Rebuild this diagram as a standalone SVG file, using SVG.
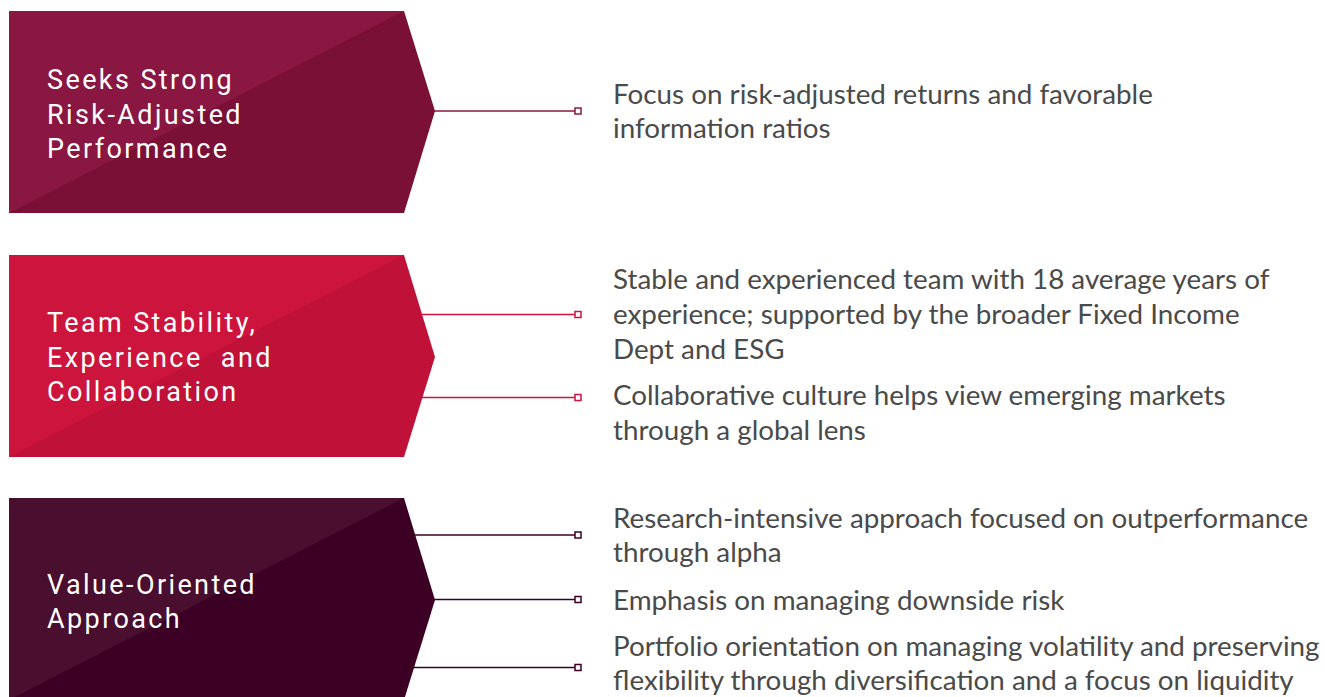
<svg xmlns="http://www.w3.org/2000/svg" width="1325" height="697" viewBox="0 0 1325 697">
<style>
.lbl{font-family:Roboto,"Liberation Sans",sans-serif;font-size:27px;fill:#ffffff;letter-spacing:2.4px}
.txt{font-family:Lato,"Liberation Sans",sans-serif;font-size:27.8px;fill:#4a4a4a}
.sq{fill:#ffffff;stroke-width:1.5}
</style>
<rect width="1325" height="697" fill="#ffffff"/>
<g id="connectors">
<g stroke="#8a1741" stroke-width="1.5">
<line x1="420" y1="111" x2="575" y2="111"/>
<rect class="sq" x="575" y="108" width="6" height="6" stroke="#8a1741"/>
</g>
<g stroke="#cc143c" stroke-width="1.5">
<line x1="410" y1="314.5" x2="575" y2="314.5"/>
<rect class="sq" x="575" y="311.5" width="6" height="6" stroke="#cc143c"/>
<line x1="410" y1="397.5" x2="575" y2="397.5"/>
<rect class="sq" x="575" y="394.5" width="6" height="6" stroke="#cc143c"/>
</g>
<g stroke="#3b0023" stroke-width="1.5">
<line x1="405" y1="535" x2="575" y2="535"/>
<rect class="sq" x="575" y="532" width="6" height="6" stroke="#3b0023"/>
<line x1="420" y1="599.5" x2="575" y2="599.5"/>
<rect class="sq" x="575" y="596.5" width="6" height="6" stroke="#3b0023"/>
<line x1="405" y1="667.5" x2="575" y2="667.5"/>
<rect class="sq" x="575" y="664.5" width="6" height="6" stroke="#3b0023"/>
</g>
</g>
<g id="node1">
<polygon points="9,11 404,11 435,111 404,213 9,213" fill="#7a1035"/>
<polygon points="9,11 404,11 9,213" fill="#8a1741"/>
<text class="lbl" x="47" y="89">Seeks Strong</text>
<text class="lbl" x="47" y="124">Risk-Adjusted</text>
<text class="lbl" x="47" y="158">Performance</text>
</g>
<g id="node2">
<polygon points="9,255 404,255 435,357 404,457 9,457" fill="#c01138"/>
<polygon points="9,255 404,255 9,457" fill="#cc143c"/>
<text class="lbl" x="47" y="332">Team Stability,</text>
<text class="lbl" x="47" y="367" xml:space="preserve">Experience  and</text>
<text class="lbl" x="47" y="401">Collaboration</text>
</g>
<g id="node3">
<polygon points="9,498 404,498 435,600 404,700 9,700" fill="#3b0023"/>
<polygon points="9,498 404,498 9,700" fill="#4a0e2f"/>
<text class="lbl" x="47" y="594">Value-Oriented</text>
<text class="lbl" x="47" y="628">Approach</text>
</g>
<g id="text1">
<text class="txt" x="613" y="104">Focus on risk-adjusted returns and favorable</text>
<text class="txt" x="613" y="138">information ratios</text>
</g>
<g id="text2">
<text class="txt" x="613" y="289">Stable and experienced team with 18 average years of</text>
<text class="txt" x="613" y="324">experience; supported by the broader Fixed Income</text>
<text class="txt" x="613" y="359">Dept and ESG</text>
<text class="txt" x="613" y="405">Collaborative culture helps view emerging markets</text>
<text class="txt" x="613" y="440">through a global lens</text>
</g>
<g id="text3">
<text class="txt" x="613" y="528">Research-intensive approach focused on outperformance</text>
<text class="txt" x="613" y="562">through alpha</text>
<text class="txt" x="613" y="610">Emphasis on managing downside risk</text>
<text class="txt" x="613" y="656">Portfolio orientation on managing volatility and preserving</text>
<text class="txt" x="613" y="690">flexibility through diversification and a focus on liquidity</text>
</g>
</svg>
